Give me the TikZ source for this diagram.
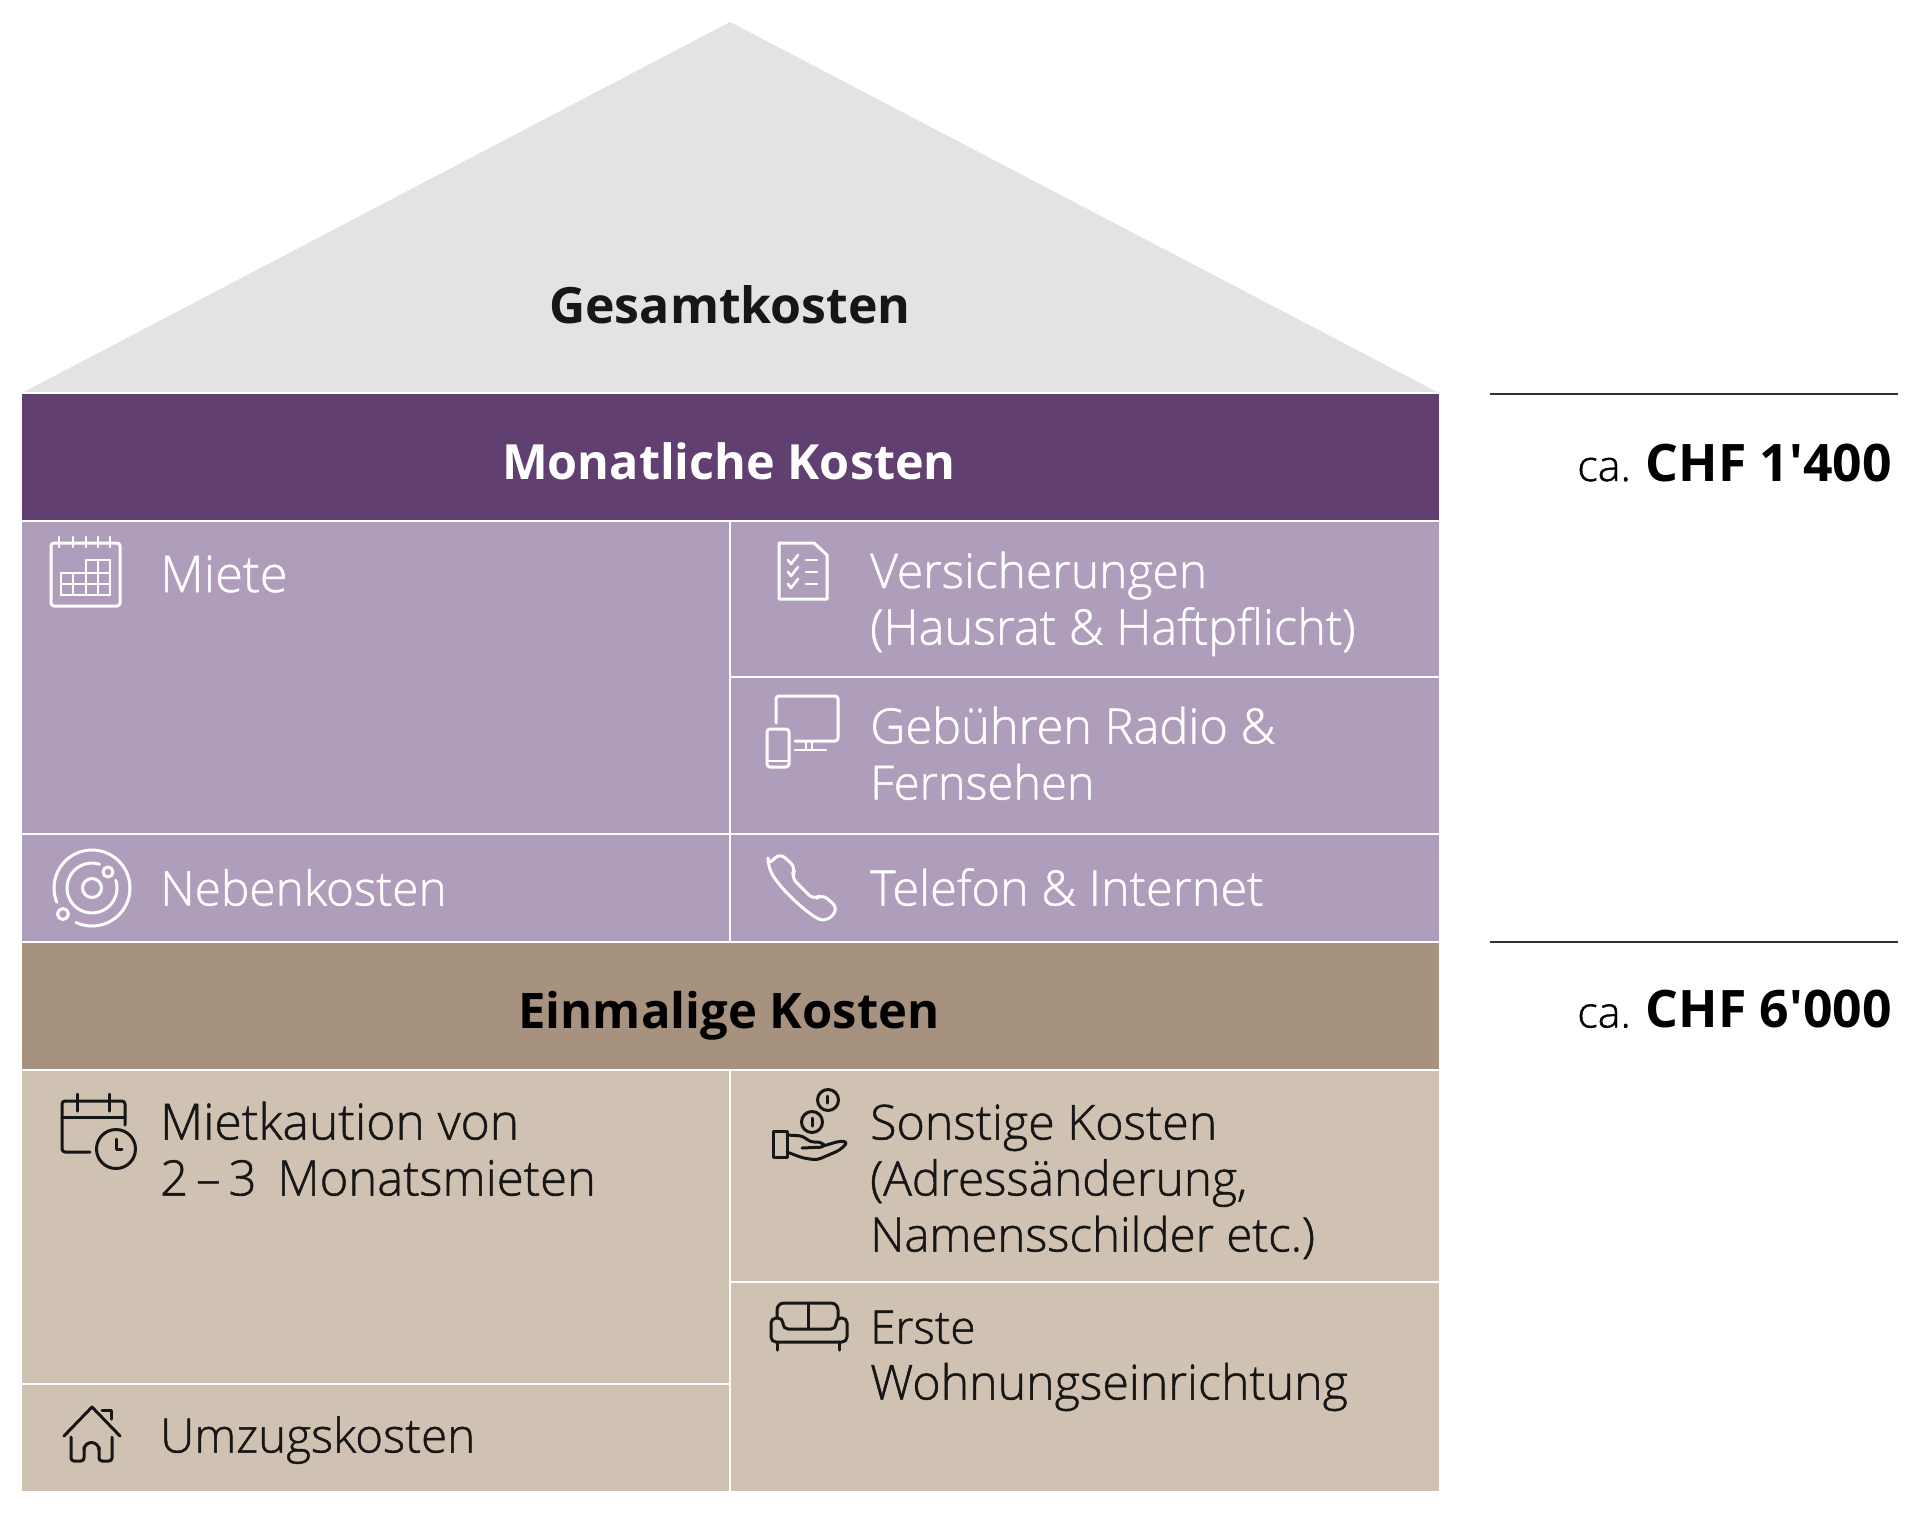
\documentclass[tikz,border=0pt]{standalone}
\usepackage{fontspec}
\setmainfont{Open Sans}[UprightFont={* Light},BoldFont={* Bold},UprightFeatures={FakeBold=1}]
\definecolor{roofgrey}{HTML}{E3E3E3}
\definecolor{purpledark}{HTML}{613F70}
\definecolor{purplelight}{HTML}{AE9DBB}
\definecolor{browndark}{HTML}{A7927F}
\definecolor{brownlight}{HTML}{D0C2B2}
\definecolor{inkblack}{HTML}{161616}
\tikzset{
  fs/.style={font=\fontsize{#1}{56}\selectfont},
  bodytext/.style={anchor=base west,inner sep=0pt},
  whitetext/.style={bodytext,text=white},
  blacktext/.style={bodytext,text=inkblack},
  headtext/.style={anchor=base,inner sep=0pt,font=\fontsize{#1}{56}\selectfont\bfseries},
  pricetext/.style={anchor=base east,inner sep=0pt,text=black,font=\fontsize{43}{56}\selectfont},
  divider/.style={draw=white,line width=2.8pt},
  iconw/.style={draw=white,line width=3pt,line cap=round,line join=round},
  iconb/.style={draw=inkblack,line width=3pt,line cap=round,line join=round},
}
\newcommand{\pricebold}[1]{{\fontsize{51.7}{56}\selectfont\bfseries #1}}
\begin{document}
\begin{tikzpicture}[x=1pt,y=-1pt]
\useasboundingbox (0,0) rectangle (1920,1515);
\fill[white] (0,0) rectangle (1920,1515);
% house
\fill[roofgrey] (22,393) -- (730,22) -- (1439,393) -- cycle;
\fill[purpledark] (22,393) rectangle (1439,520);
\fill[purplelight] (22,520) rectangle (1439,942);
\fill[browndark] (22,942) rectangle (1439,1070);
\fill[brownlight] (22,1070) rectangle (1439,1491);
% dividers
\draw[divider] (22,393) -- (1439,393);
\draw[divider] (22,521) -- (1439,521);
\draw[divider] (730,677) -- (1439,677);
\draw[divider] (22,834) -- (1439,834);
\draw[divider] (22,942) -- (1439,942);
\draw[divider] (22,1070) -- (1439,1070);
\draw[divider] (730,1282) -- (1439,1282);
\draw[divider] (22,1384) -- (730,1384);
\draw[divider] (730,521) -- (730,942);
\draw[divider] (730,1070) -- (730,1491);
% side rules
\draw[line width=2pt,draw=black!80] (1490,394) -- (1898,394);
\draw[line width=2pt,draw=black!80] (1490,942) -- (1898,942);
% headings
\node[headtext=50,text=inkblack] (gesamt) at (730,323) {Gesamtkosten};
\node[headtext=48.5,text=white] (monat) at (729,479) {Monatliche Kosten};
\node[headtext=49,text=black] (einmal) at (729,1028) {Einmalige Kosten};
% prices
\node[pricetext] (p1) at (1892,481) {ca. \pricebold{CHF 1\textquotesingle 400}};
\node[pricetext] (p2) at (1892,1027.5) {ca. \pricebold{CHF 6\textquotesingle 000}};
% cell texts
\node[whitetext,fs=50.5] (miete) at (160,592) {Miete};
\node[whitetext,fs=47.9] (vers1) at (870,588) {Versicherungen};
\node[whitetext,fs=48.8] (vers2) at (870,644.5) {(Hausrat \& Haftpflicht)};
\node[whitetext,fs=48.7] (geb1) at (870,743.5) {Gebühren Radio \&};
\node[whitetext,fs=47] (geb2) at (870,799.5) {Fernsehen};
\node[whitetext,fs=47.8] (neben) at (160,905.5) {Nebenkosten};
\node[whitetext,fs=48.7] (tel) at (870,905.5) {Telefon \& Internet};
\node[blacktext,fs=49.8] (kau1) at (160,1139.5) {Mietkaution von};
\node[blacktext,fs=49] (kau2) at (160,1195.5) {2\hspace{8pt}–\hspace{8pt}3\hspace{8pt} Monatsmieten};
\node[blacktext,fs=48.3] (son1) at (870,1139.5) {Sonstige Kosten};
\node[blacktext,fs=47.8] (son2) at (870,1195.5) {(Adressänderung,};
\node[blacktext,fs=47.4] (son3) at (870,1251.5) {Namensschilder etc.)};
\node[blacktext,fs=46] (ers1) at (870,1343.5) {Erste};
\node[blacktext,fs=48.3] (ers2) at (870,1399.5) {Wohnungseinrichtung};
\node[blacktext,fs=47.5] (umz) at (160,1452.5) {Umzugskosten};
% calendar icon
\draw[iconw,rounded corners=3pt] (51,543) rectangle (120,606);
\foreach \xx in {59,73,86,98,110} \draw[iconw,line width=2.4pt] (\xx,537) -- (\xx,547);
\draw[iconw,line width=2.6pt] (61,573) -- (110,573) (61,584) -- (110,584) (61,595) -- (110,595)
  (86,560) -- (110,560) (61,573) -- (61,595) (73,573) -- (73,595) (86,560) -- (86,595) (98,560) -- (98,595) (110,560) -- (110,595);
% document icon
\draw[iconw] (779,543) -- (814,543) -- (827,555) -- (827,599) -- (779,599) -- cycle;
\foreach \yy in {560,572,584} {
  \draw[iconw,line width=2.6pt] (788,\yy) -- (791,\yy+4) -- (798,\yy-5);
  \draw[iconw,line width=2.6pt] (806,\yy) -- (817,\yy);
}
% devices icon
\draw[iconw,rounded corners=3pt] (776,723) -- (776,696) -- (838,696) -- (838,741) -- (795,741);
\draw[iconw,line width=2.6pt] (806,741) -- (806,750) (812,741) -- (812,750) (795,750) -- (826,750);
\draw[iconw,rounded corners=3pt] (767,729) rectangle (789,767);
\draw[iconw,line width=2.4pt] (767,761) -- (789,761);
% utilities icon
\draw[iconw] ([shift={(245:38pt)}]92,888) arc[start angle=245,end angle=562,radius=38pt];
\draw[iconw] ([shift={(72:25pt)}]92,888) arc[start angle=72,end angle=378,radius=25pt];
\draw[iconw] (92,888) circle[radius=9.5pt];
\draw[iconw] (108,872) circle[radius=5pt];
\draw[iconw] (63,914) circle[radius=5.5pt];
% telephone icon
\draw[iconw,rounded corners=7pt] (768,865) -- (780,853) -- (796,868) -- (791,877) -- (814,900) -- (822,894) -- (838,908) -- (828,921) .. controls (812,918) and (778,888) .. cycle;
% calendar and clock icon
\draw[iconb,rounded corners=3pt] (125,1125) -- (125,1101) -- (62,1101) -- (62,1152) -- (90,1152);
\draw[iconb] (62,1117) -- (125,1117) (77,1094) -- (77,1111) (109,1094) -- (109,1111);
\draw[iconb] (116,1149) circle[radius=19.5pt];
\draw[iconb] (116,1139) -- (116,1149) -- (122,1149);
% hand with coins icon
\draw[iconb] (828,1100) circle[radius=10.5pt];
\draw[iconb] (827,1096) -- (827,1103);
\draw[iconb] (812,1122) circle[radius=10.5pt];
\draw[iconb] (812,1118) -- (812,1126);
\draw[iconb] (773,1131) rectangle (787,1157);
\draw[iconb,rounded corners=4pt] (787,1135) -- (803,1136) -- (810,1142) -- (822,1142) -- (825,1147) -- (802,1148);
\draw[iconb,rounded corners=4pt] (823,1146) -- (840,1141) -- (848,1142) -- (840,1150) -- (817,1160) -- (803,1158) -- (787,1152);
% sofa icon
\draw[iconb,rounded corners=7pt] (777,1318) -- (777,1303) -- (838,1303) -- (838,1318);
\draw[iconb,rounded corners=5pt] (783,1329) -- (783,1318) -- (771,1318) -- (771,1342) -- (847,1342) -- (847,1318) -- (836,1318) -- (836,1329) -- cycle;
\draw[iconb] (808,1303) -- (808,1329) (777,1342) -- (777,1350) (839,1342) -- (839,1350);
% house icon
\draw[iconb] (64,1436) -- (92,1407) -- (120,1436);
\draw[iconb] (102,1410) -- (111,1410) -- (111,1419);
\draw[iconb,rounded corners=3pt] (71,1437) -- (71,1461) -- (84,1461) -- (84,1447);
\draw[iconb] (84,1450) arc[start angle=180,end angle=0,radius=7.5pt];
\draw[iconb,rounded corners=3pt] (99,1447) -- (99,1461) -- (112,1461) -- (112,1437);
\end{tikzpicture}
\end{document}
